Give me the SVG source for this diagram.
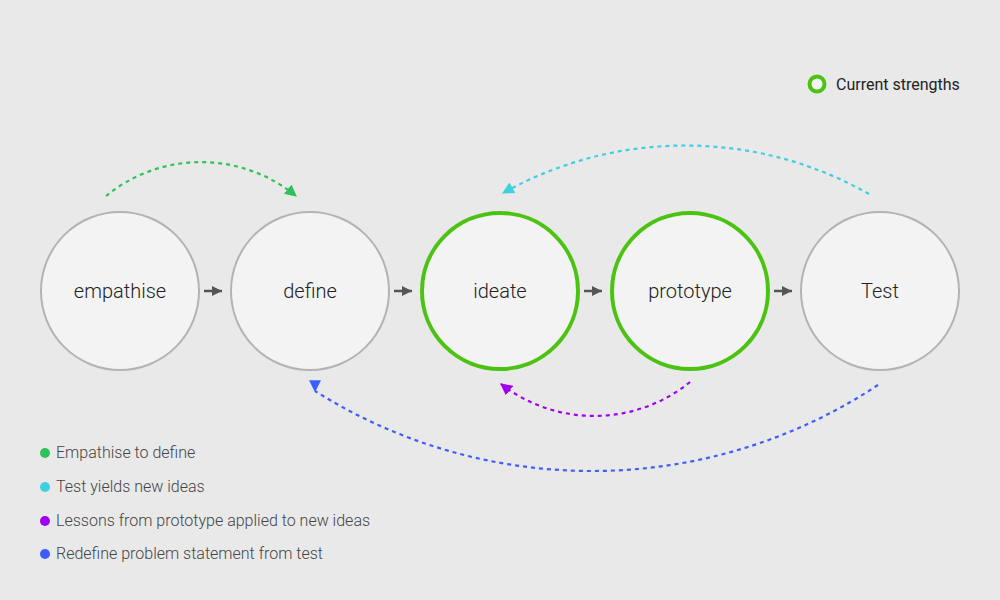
<svg xmlns="http://www.w3.org/2000/svg" width="1000" height="600" viewBox="0 0 1000 600">
<defs>
<style>
.node{fill:#f3f3f3;stroke:#b3b3b3;stroke-width:2}
.strong{fill:#f3f3f3;stroke:#4cc313;stroke-width:4}
.lbl{font-family:Roboto,"Liberation Sans",sans-serif;font-size:20px;font-weight:300;fill:#222;text-anchor:middle}
.leg{font-family:Roboto,"Liberation Sans",sans-serif;font-size:16px;font-weight:300;fill:#444}
.step{stroke:#555;stroke-width:2.5;fill:none}
.loop{fill:none;stroke-width:2.2;stroke-dasharray:4 4}
</style>
<marker id="ah" viewBox="0 0 10 10" refX="10" refY="5" markerWidth="10" markerHeight="10" orient="auto" markerUnits="userSpaceOnUse"><path d="M0,0 L10,5 L0,10 z" fill="#555"/></marker>
<marker id="ag" viewBox="0 0 10 10" refX="9" refY="5" markerWidth="12" markerHeight="12" orient="auto" markerUnits="userSpaceOnUse"><path d="M0,0 L10,5 L0,10 z" fill="#2dc25a"/></marker>
<marker id="ac" viewBox="0 0 10 10" refX="9" refY="5" markerWidth="12" markerHeight="12" orient="auto" markerUnits="userSpaceOnUse"><path d="M0,0 L10,5 L0,10 z" fill="#3ecfe0"/></marker>
<marker id="ap" viewBox="0 0 10 10" refX="9" refY="5" markerWidth="12" markerHeight="12" orient="auto" markerUnits="userSpaceOnUse"><path d="M0,0 L10,5 L0,10 z" fill="#a100f0"/></marker>
<marker id="ab" viewBox="0 0 10 10" refX="9" refY="5" markerWidth="12" markerHeight="12" orient="90" markerUnits="userSpaceOnUse"><path d="M0,0 L10,5 L0,10 z" fill="#3d5dff"/></marker>
</defs>
<rect width="1000" height="600" fill="#e9e9e9"/>
<g id="node-empathise"><circle class="node" cx="120" cy="291" r="79"/><text class="lbl" x="120" y="298">empathise</text></g>
<g id="node-define"><circle class="node" cx="310" cy="291" r="79"/><text class="lbl" x="310" y="298">define</text></g>
<g id="node-ideate"><circle class="strong" cx="500" cy="291" r="78"/><text class="lbl" x="500" y="298">ideate</text></g>
<g id="node-prototype"><circle class="strong" cx="690" cy="291" r="78"/><text class="lbl" x="690" y="298">prototype</text></g>
<g id="node-test"><circle class="node" cx="880" cy="291" r="79"/><text class="lbl" x="880" y="298">Test</text></g>
<g id="connectors">
<line class="step" x1="204" y1="291" x2="222" y2="291" marker-end="url(#ah)"/>
<line class="step" x1="394" y1="291" x2="412" y2="291" marker-end="url(#ah)"/>
<line class="step" x1="584" y1="291" x2="602" y2="291" marker-end="url(#ah)"/>
<line class="step" x1="774" y1="291" x2="792" y2="291" marker-end="url(#ah)"/>
<path class="loop" stroke="#2dc25a" d="M106,196 A150,150 0 0 1 296,196" marker-end="url(#ag)"/>
<path class="loop" stroke="#3ecfe0" d="M869,194 A373,373 0 0 0 503,193" marker-end="url(#ac)"/>
<path class="loop" stroke="#a100f0" d="M690,382 A152,152 0 0 1 501,384" marker-end="url(#ap)"/>
<path class="loop" stroke="#3d5dff" d="M878,385 A519,519 0 0 1 315,391" marker-end="url(#ab)"/>
</g>
<g id="legend-strengths"><circle cx="817" cy="84" r="7.5" fill="#f3f3f3" stroke="#4cc313" stroke-width="4"/><text x="836" y="90" font-family="Roboto, 'Liberation Sans', sans-serif" font-size="16" fill="#222">Current strengths</text></g>
<g id="legend">
<circle cx="45" cy="453" r="5" fill="#2dc25a"/><text class="leg" x="56" y="458">Empathise to define</text>
<circle cx="45" cy="487" r="5" fill="#3ecfe0"/><text class="leg" x="56" y="492">Test yields new ideas</text>
<circle cx="45" cy="521" r="5" fill="#a100f0"/><text class="leg" x="56" y="526">Lessons from prototype applied to new ideas</text>
<circle cx="45" cy="554" r="5" fill="#3d5dff"/><text class="leg" x="56" y="559">Redefine problem statement from test</text>
</g>
</svg>
